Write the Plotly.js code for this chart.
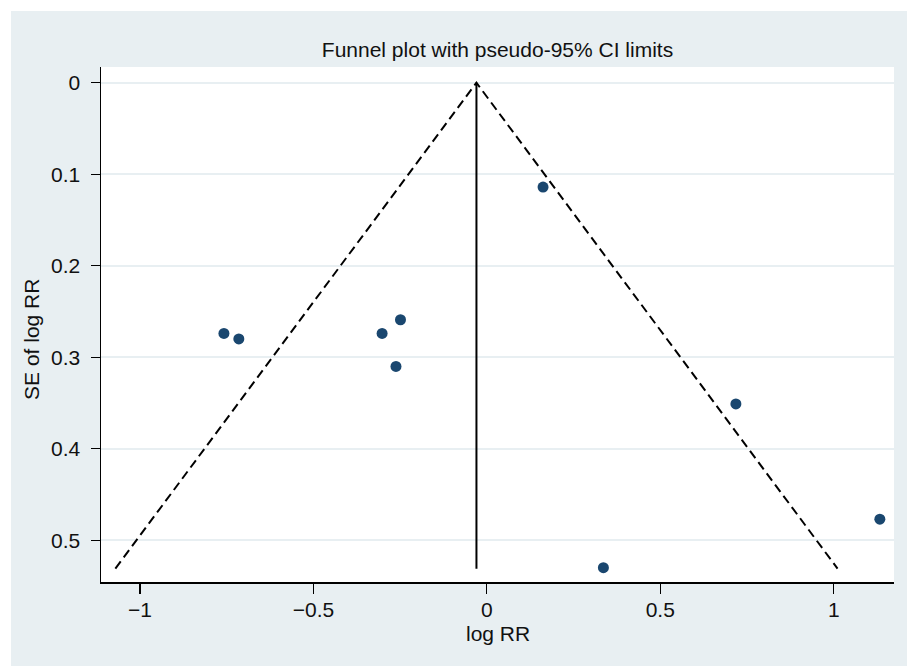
<!DOCTYPE html>
<html>
<head>
<meta charset="utf-8">
<script src="https://cdn.plot.ly/plotly-3.0.1.min.js"></script>
<style>
  html, body { margin: 0; padding: 0; background: #ffffff; width: 907px; height: 666px; overflow: hidden; }
  #chart { position: absolute; left: 11px; top: 11px; width: 896px; height: 655px; }
</style>
</head>
<body>
<div id="chart"></div>
<script>
// Study estimates (log RR) and their standard errors
const logRR = [0.162, -0.758, -0.715, -0.302, -0.249, -0.262, 0.718, 1.133, 0.336];
const seLogRR = [0.114, 0.274, 0.280, 0.274, 0.259, 0.310, 0.351, 0.477, 0.530];

// Pseudo-95% CI limit lines (funnel) and pooled estimate line
const funnelX = [-1.071, -0.030, 1.011];
const funnelY = [0.531, 0.000, 0.531];
const pooledX = [-0.030, -0.030];
const pooledY = [0.000, 0.531];

// Tick labels
const xTicks = [-1, -0.5, 0, 0.5, 1];
const xTickText = ["\u22121", "\u22120.5", "0", "0.5", "1"];
const yTicks = [0, 0.1, 0.2, 0.3, 0.4, 0.5];
const yTickText = ["0", "0.1", "0.2", "0.3", "0.4", "0.5"];

const FONT = "Liberation Sans, Arial, Helvetica, sans-serif";
const BG = "#e8eff2";
const FS = 21;

const traces = [
  {
    x: funnelX, y: funnelY, type: "scatter", mode: "lines",
    line: { color: "#000000", width: 2, dash: "9px,5px" },
    hoverinfo: "skip", showlegend: false
  },
  {
    x: pooledX, y: pooledY, type: "scatter", mode: "lines",
    line: { color: "#000000", width: 2 },
    hoverinfo: "skip", showlegend: false
  },
  {
    x: logRR, y: seLogRR, type: "scatter", mode: "markers",
    marker: { color: "#1a476f", size: 11, line: { width: 0 } },
    showlegend: false
  }
];

const layout = {
  width: 896, height: 655,
  margin: { l: 90, r: 13, t: 56, b: 84, pad: 0 },
  paper_bgcolor: BG,
  plot_bgcolor: "#ffffff",
  font: { family: FONT, size: FS, color: "#111111" },
  title: {
    text: "Funnel plot with pseudo-95% CI limits",
    font: { family: FONT, size: FS, color: "#111111" },
    x: 0.5, xref: "paper", xanchor: "center",
    y: 0.9405, yref: "container", yanchor: "middle"
  },
  xaxis: {
    range: [-1.1124, 1.1738],
    tickmode: "array", tickvals: xTicks, ticktext: xTickText,
    ticks: "outside", ticklen: 10, tickwidth: 1.2, tickcolor: "#000000",
    showline: true, linecolor: "#000000", linewidth: 1.5,
    showgrid: false, zeroline: false,
    tickfont: { family: FONT, size: FS, color: "#111111" },
    ticklabelstandoff: -2
  },
  yaxis: {
    range: [0.5456, -0.0172],
    tickmode: "array", tickvals: yTicks, ticktext: yTickText,
    ticks: "outside", ticklen: 9, tickwidth: 1.2, tickcolor: "#000000",
    showline: true, linecolor: "#000000", linewidth: 1.5,
    showgrid: true, gridcolor: BG, gridwidth: 1.6,
    zeroline: false,
    tickfont: { family: FONT, size: FS, color: "#111111" },
    ticklabelstandoff: 6
  },
  annotations: [
    {
      text: "log RR", xref: "paper", yref: "paper",
      x: 0.5, y: -0.1, xanchor: "center", yanchor: "middle",
      showarrow: false, font: { family: FONT, size: FS, color: "#111111" }
    },
    {
      text: "SE of log RR", xref: "paper", yref: "paper",
      x: -0.087, y: 0.47, xanchor: "center", yanchor: "middle",
      textangle: -90,
      showarrow: false, font: { family: FONT, size: FS, color: "#111111" }
    }
  ]
};

Plotly.newPlot("chart", traces, layout, { displayModeBar: false, staticPlot: true });
</script>
</body>
</html>
